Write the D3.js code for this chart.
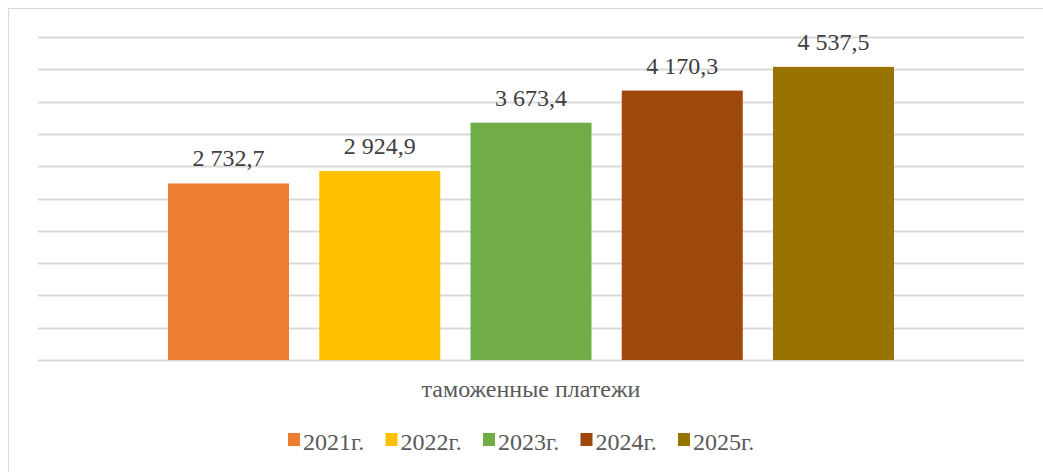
<!DOCTYPE html>
<html>
<head>
<meta charset="utf-8">
<script src="https://cdn.jsdelivr.net/npm/d3@7"></script>
<style>
  body { margin: 0; background: #fff; }
  svg { display: block; }
</style>
</head>
<body>
<svg id="chart" width="1043" height="472"></svg>
<script>
const category = "таможенные платежи";
const years = ["2021г.", "2022г.", "2023г.", "2024г.", "2025г."];
const values = [2732.7, 2924.9, 3673.4, 4170.3, 4537.5];
const colors = ["#ED7D31", "#FFC000", "#70AD47", "#9E480E", "#997300"];
const gridTicks = d3.range(0, 5001, 500);

const width = 1043, height = 472;
const svg = d3.select("#chart");

// chart frame (cut off on right and bottom like the original)
svg.append("path")
  .attr("d", `M8.5,${height} V8.5 H${width}`)
  .attr("fill", "none")
  .attr("stroke", "#d9d9d9")
  .attr("stroke-width", 1);

const plotLeft = 38, plotRight = 1024, plotTop = 37, plotBottom = 360;

const y = d3.scaleLinear().domain([0, 5000]).range([plotBottom, plotTop]);
const x0 = d3.scaleBand().domain([category]).range([plotLeft, plotRight]);
const x1 = d3.scaleBand().domain(years)
  .range([x0(category) + 130, x0(category) + x0.bandwidth() - 130])
  .paddingInner(0.2);

svg.append("g")
  .selectAll("line")
  .data(gridTicks)
  .join("line")
    .attr("x1", plotLeft)
    .attr("x2", plotRight)
    .attr("y1", d => Math.round(y(d)) + 0.5)
    .attr("y2", d => Math.round(y(d)) + 0.5)
    .attr("stroke", "#d9d9d9")
    .attr("stroke-width", 2);

const fmt = v => d3.format(",.1f")(v).replace(/,/g, " ").replace(".", ",");

svg.append("g")
  .selectAll("rect")
  .data(values)
  .join("rect")
    .attr("x", (d, i) => x1(years[i]))
    .attr("y", d => y(d))
    .attr("width", x1.bandwidth())
    .attr("height", d => plotBottom - y(d))
    .attr("fill", (d, i) => colors[i]);

svg.append("g")
  .style("font", "24px 'Liberation Serif', 'Times New Roman', serif")
  .attr("fill", "#404040")
  .attr("text-anchor", "middle")
  .selectAll("text")
  .data(values)
  .join("text")
    .attr("x", (d, i) => x1(years[i]) + x1.bandwidth() / 2)
    .attr("y", d => y(d) - 17)
    .text(d => fmt(d));

svg.append("text")
  .attr("x", x0(category) + x0.bandwidth() / 2)
  .attr("y", 397)
  .attr("text-anchor", "middle")
  .attr("fill", "#595959")
  .style("font", "24px 'Liberation Serif', 'Times New Roman', serif")
  .text(category);

// legend
const legend = svg.append("g")
  .selectAll("g")
  .data(years)
  .join("g")
    .attr("transform", (d, i) => `translate(${288 + i * 97.5},433)`);

legend.append("rect")
  .attr("width", 12)
  .attr("height", 13)
  .attr("fill", (d, i) => colors[i]);

legend.append("text")
  .attr("x", 15)
  .attr("y", 17)
  .attr("fill", "#595959")
  .style("font", "24px 'Liberation Serif', 'Times New Roman', serif")
  .text(d => d);
</script>
</body>
</html>
